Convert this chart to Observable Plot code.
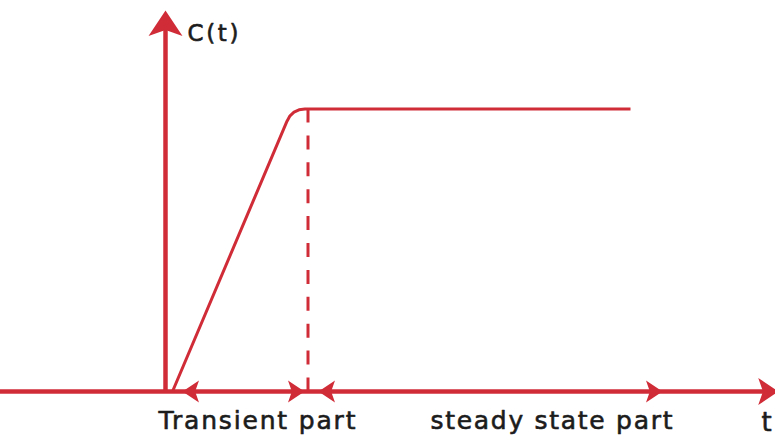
<!DOCTYPE html>
<html>
<head>
<meta charset="utf-8">
<script src="https://cdn.jsdelivr.net/npm/d3@7"></script>
<script src="https://cdn.jsdelivr.net/npm/@observablehq/plot@0.6"></script>
<style>
  html, body { margin: 0; padding: 0; background: #ffffff; }
  #chart svg { display: block; }
</style>
</head>
<body>
<div id="chart"></div>
<script>
// ---- data (logical units: t along the time axis, C = response, steady state = 1) ----
const responseT = [0.28, 4.86, 4.98, 5.14, 5.34, 5.58, 18.6];
const responseC = [0, 0.957, 0.976, 0.989, 0.997, 1, 1];

const boundaryT = [5.7];          // dashed line between transient and steady state
const boundaryC = [1, 0];

const arrowRightT = [5.56, 19.88]; // right-pointing heads of the double arrows
const arrowLeftT = [0.68, 6.12];   // left-pointing heads of the double arrows
const timeAxisTipT = [24.52];
const outputAxisTipC = [1.3487];

const labels = ["C(t)", "Transient part", "steady state part", "t"];
const labelT = [0.88, -0.28, 10.6, 23.84];
const labelC = [1.2425, -0.131, -0.131, -0.139];

// ---- helpers ----
const RED = "#d02c38";
const INK = "#1c1c1c";

function arrowSymbol(dir) {
  return {
    draw(ctx, size) {
      const r = Math.sqrt(size / Math.PI);
      const L = 1.5 * r, n = 0.35 * r;
      let pts = [[0, 0], [-L, -r], [-L + n, 0], [-L, r]];
      if (dir === "left") pts = pts.map(([x, y]) => [-x, y]);
      if (dir === "up") pts = pts.map(([x, y]) => [y, -x]);
      ctx.moveTo(pts[0][0], pts[0][1]);
      for (let i = 1; i < pts.length; i++) ctx.lineTo(pts[i][0], pts[i][1]);
      ctx.closePath();
    }
  };
}

const response = responseT.map((t, i) => ({t, c: responseC[i]}));
const texts = labels.map((s, i) => ({s, t: labelT[i], c: labelC[i]}));

const textStyle = {x: "t", y: "c", text: "s", textAnchor: "start", lineAnchor: "bottom",
  fill: INK, stroke: INK, strokeWidth: 0.6};

const chart = Plot.plot({
  width: 775,
  height: 437,
  margin: 0,
  style: {background: "#ffffff"},
  x: {domain: [-6.6, 24.4], axis: null},
  y: {domain: [-0.1628, 1.3841], axis: null},
  marks: [
    // dashed boundary
    Plot.ruleX(boundaryT, {x: d => d, y1: () => boundaryC[0], y2: () => boundaryC[1],
      stroke: RED, strokeWidth: 3, strokeDasharray: "14,12.9"}),
    // response curve
    Plot.line(response, {x: "t", y: "c", stroke: RED, strokeWidth: 3,
      strokeLinejoin: "round", strokeLinecap: "butt"}),
    // time axis
    Plot.ruleY([0], {stroke: RED, strokeWidth: 4.5}),
    // output axis
    Plot.ruleX([0], {y1: () => 0, y2: () => outputAxisTipC[0] - 0.06, stroke: RED, strokeWidth: 4.5}),
    // arrowheads
    Plot.dot(arrowRightT, {x: d => d, y: () => 0, r: 11, symbol: arrowSymbol("right"), fill: RED}),
    Plot.dot(arrowLeftT, {x: d => d, y: () => 0, r: 11, symbol: arrowSymbol("left"), fill: RED}),
    Plot.dot(timeAxisTipT, {x: d => d, y: () => 0, r: 13.5, symbol: arrowSymbol("right"), fill: RED}),
    Plot.dot(outputAxisTipC, {x: () => 0, y: d => d, r: 17, symbol: arrowSymbol("up"), fill: RED}),
    // labels
    Plot.text(texts.filter(d => d.s === "C(t)"), {...textStyle, fontSize: 23}),
    Plot.text(texts.filter(d => d.s !== "C(t)" && d.s !== "t"), {...textStyle, fontSize: 25}),
    Plot.text(texts.filter(d => d.s === "t"), {...textStyle, fontSize: 26})
  ]
});

d3.select(chart).style("font-family", "'DejaVu Sans', sans-serif");
document.getElementById("chart").appendChild(chart);

// stretch letter spacing to match the reference's wide typeface
const targetWidths = {"Transient part": 197, "steady state part": 242, "C(t)": 51};
d3.select(chart).selectAll("text").each(function () {
  const w = targetWidths[this.textContent];
  if (w) {
    this.setAttribute("textLength", w);
    this.setAttribute("lengthAdjust", "spacing");
  }
});
</script>
</body>
</html>
